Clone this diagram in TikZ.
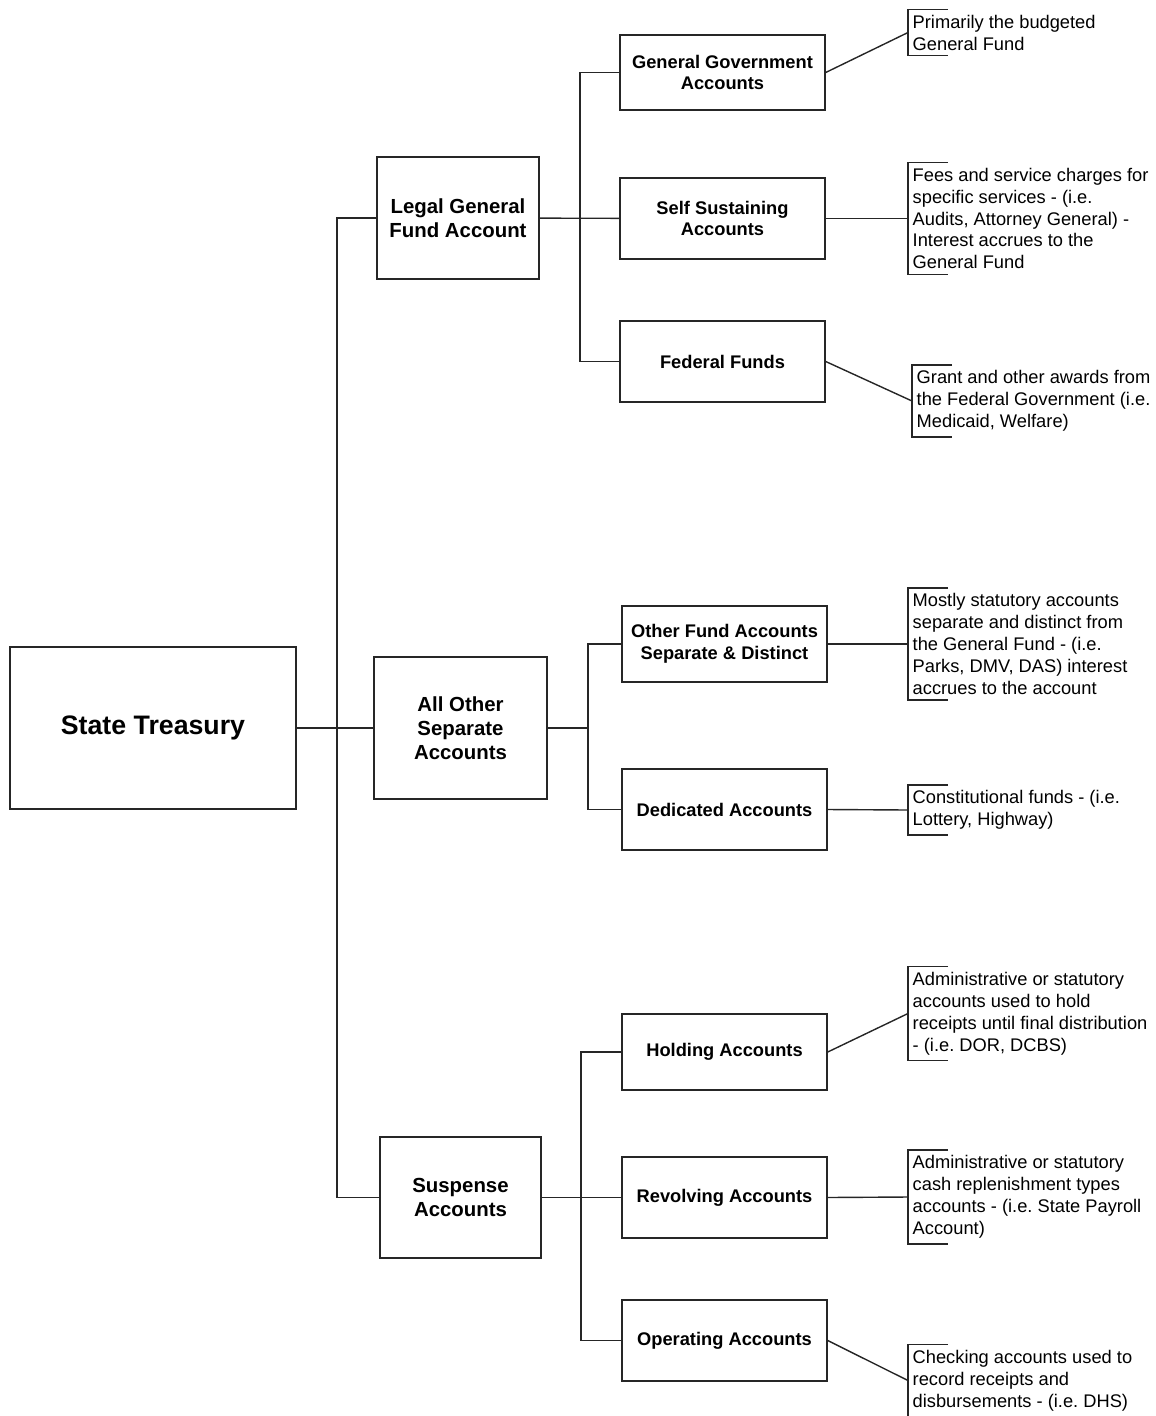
\documentclass[tikz,border=0pt]{standalone}
\usepackage{fontspec}
\setmainfont{Liberation Sans}
\frenchspacing
\begin{document}
\begin{tikzpicture}[
        x=0.025cm,
        y=-0.025cm,
        line width=1pt,
        draw=black!85
    ]
    \tikzset{
        boxnode/.style = {rectangle, draw=black!85, align=center, inner sep=0pt,
            minimum width=5.125cm, minimum height=2.025cm,
            font=\fontsize{13}{15.5}\selectfont\bfseries},
        boxnodeb/.style = {boxnode, font=\fontsize{14.5}{17.2}\selectfont\bfseries},
        notenode/.style = {anchor=west, align=left, inner xsep=0.1cm, inner ysep=0.12cm,
            font=\fontsize{13}{15.6}\selectfont},
        edgen/.style = {-, black!85},
    }
    \useasboundingbox (0,0) rectangle (1156,1416);
    \node[boxnode, minimum width=7.15cm, minimum height=4.05cm,
        font=\fontsize{19}{23}\selectfont\bfseries] at (153,728) (st) {State Treasury};
    %
    \node[boxnodeb, minimum width=4.05cm, minimum height=3.05cm] at (458,218) (lg) {Legal General\\Fund Account};
    \node[boxnodeb, minimum width=4.325cm, minimum height=3.55cm] at (460.5,728) (ao) {All Other\\Separate\\Accounts};
    \node[boxnodeb, minimum width=4.025cm, minimum height=3.025cm] at (460.5,1197.5) (su) {Suspense\\Accounts};
    %
    \node[boxnode, minimum height=1.875cm] at (722.5,72.5) (gg) {General Government\\Accounts};
    \node[boxnode] at (722.5,218.5) (ss) {Self Sustaining\\Accounts};
    \node[boxnode] at (722.5,361.5) (ff) {Federal Funds};
    \node[boxnode, minimum height=1.9cm] at (724.5,644) (of) {Other Fund Accounts\\Separate \& Distinct};
    \node[boxnode] at (724.5,809.5) (da) {Dedicated Accounts};
    \node[boxnode, minimum height=1.9cm] at (724.5,1052) (ho) {Holding Accounts};
    \node[boxnode] at (724.5,1197.5) (re) {Revolving Accounts};
    \node[boxnode] at (724.5,1340.5) (op) {Operating Accounts};
    %
    \node[notenode] at (908,32.5) (n1) {Primarily the budgeted\\General Fund};
    \node[notenode] at (908,218.5) (n2) {Fees and service charges for\\specific services - (i.e.\\Audits, Attorney General) -\\Interest accrues to the\\General Fund};
    \node[notenode] at (912,401) (n3) {Grant and other awards from\\the Federal Government (i.e.\\Medicaid, Welfare)};
    \node[notenode] at (908,644) (n4) {Mostly statutory accounts\\separate and distinct from\\the General Fund - (i.e.\\Parks, DMV, DAS) interest\\accrues to the account};
    \node[notenode] at (908,810) (n5) {Constitutional funds - (i.e.\\Lottery, Highway)};
    \node[notenode] at (908,1013.5) (n6) {Administrative or statutory\\accounts used to hold\\receipts until final distribution\\- (i.e. DOR, DCBS)};
    \node[notenode] at (908,1197) (n7) {Administrative or statutory\\cash replenishment types\\accounts - (i.e. State Payroll\\Account)};
    \node[notenode] at (908,1380.5) (n8) {Checking accounts used to\\record receipts and\\disbursements - (i.e. DHS)};
    %
    \coordinate (j1) at (337,728);
    \coordinate (j2) at (580,218);
    \coordinate (j3) at (588,728);
    \coordinate (j4) at (581,1197.5);
    %
    \draw[edgen] (st) -- (ao);
    \draw[edgen] (lg.west) -| (j1) |- (su.west);
    %
    \draw[edgen] (lg) -- (ss);
    \draw[edgen] (gg.west) -| (j2) |- (ff.west);
    %
    \draw[edgen] (ao.east) -- (j3);
    \draw[edgen] (of.west) -| (j3) |- (da.west);
    %
    \draw[edgen] (su) -- (re);
    \draw[edgen] (ho.west) -| (j4) |- (op.west);
    %
    \foreach \b/\n in {gg/n1, ss/n2, ff/n3, of/n4, da/n5, ho/n6, re/n7, op/n8} {
        \draw[edgen] (\b.east) -- (\n.west);
        \draw[edgen] ([xshift=1cm]\n.north west) -- (\n.north west)
            -- (\n.south west) -- ([xshift=1cm]\n.south west);
    }
\end{tikzpicture}
\end{document}
